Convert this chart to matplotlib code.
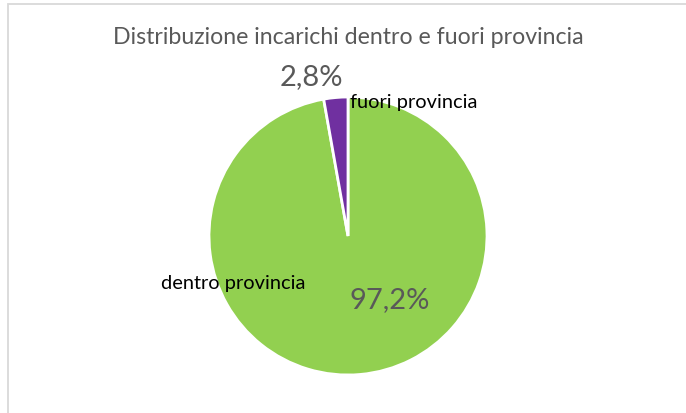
import matplotlib.pyplot as plt
from matplotlib.patches import Rectangle

plt.rcParams["font.family"] = ["Lato", "DejaVu Sans"]

TITLE = "Distribuzione incarichi dentro e fuori provincia"
CATEGORIES = ["dentro provincia", "fuori provincia"]
SHARES = [97.2, 2.8]
PCT_LABELS = ["97,2%", "2,8%"]
COLORS = ["#92D050", "#7030A0"]

W, H = 686, 414
CX, CY, R = 348, 237, 139  # pie centre / radius in pixels

fig = plt.figure(figsize=(W / 100, H / 100), dpi=100)

# light chart-area frame (runs off the right and bottom edges)
fig.patches.append(
    Rectangle((8 / W, -0.1), 1.2, (H - 5) / H + 0.1, transform=fig.transFigure,
              fill=False, edgecolor="#d9d9d9", linewidth=1.3)
)

ax = fig.add_axes([(CX - R) / W, (H - CY - R) / H, 2 * R / W, 2 * R / H])
ax.pie(SHARES, colors=COLORS, startangle=90, counterclock=False, radius=1,
       wedgeprops=dict(edgecolor="white", linewidth=2))
ax.set_xlim(-1, 1)
ax.set_ylim(-1, 1)
ax.set_aspect("equal")
ax.axis("off")

# category labels
ax.text(-1.345, -0.338, CATEGORIES[0], ha="left", va="center", fontsize=14.4, color="black")
ax.text(0.014, 0.971, CATEGORIES[1], ha="left", va="center", fontsize=14.4, color="black")
# percentage labels
ax.text(0.302, -0.453, PCT_LABELS[0], ha="center", va="center", fontsize=21, color="#595959")
ax.text(-0.265, 1.151, PCT_LABELS[1], ha="center", va="center", fontsize=21, color="#595959")

fig.text(348 / W, 1 - 37 / H, TITLE, ha="center", va="center", fontsize=16.7, color="#595959")

fig.savefig("out.png", dpi=100)
